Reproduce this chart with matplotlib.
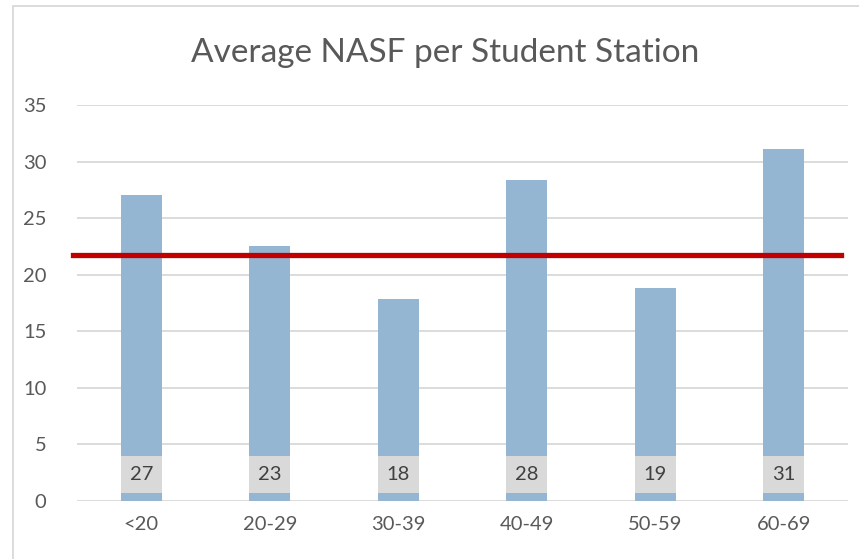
import matplotlib.pyplot as plt
from matplotlib.patches import Rectangle

categories = ['<20', '20-29', '30-39', '40-49', '50-59', '60-69']
nasf = [27.0, 22.55, 17.85, 28.35, 18.85, 31.1]
labels = ['27', '23', '18', '28', '19', '31']
average = 21.7

plt.rcParams['font.family'] = ['Lato', 'DejaVu Sans']

fig = plt.figure(figsize=(8.59, 5.59), dpi=100)
ax = fig.add_axes([0.0896, 0.1038, 0.8976, 0.7084])

x = range(len(categories))
ax.bar(x, nasf, width=0.32, color='#95b6d3', zorder=2)

# grey data label boxes at the base of the bars
ax.bar(x, 3.3, bottom=0.7, width=0.32, color='#d9d9d9', zorder=3)
for i, lab in enumerate(labels):
    ax.text(i, 2.3, lab, ha='center', va='center', fontsize=14.5,
            color='#404040', zorder=4)

ax.axhline(average, xmin=-0.005, xmax=0.991, color='#c00000', lw=3.8,
           zorder=5, clip_on=False)

ax.set_xlim(-0.5, 5.5)
ax.set_ylim(0, 35)
ax.set_yticks(range(0, 36, 5))
ax.set_xticks(list(x))
ax.set_xticklabels(categories)
ax.yaxis.grid(True, color='#d9d9d9', lw=1.3, zorder=0)
ax.set_axisbelow(True)
for s in ax.spines.values():
    s.set_visible(False)
ax.tick_params(length=0, labelsize=14.5, colors='#595959')
ax.tick_params(axis='y', pad=22)
ax.tick_params(axis='x', pad=11)
for t in ax.get_yticklabels():
    t.set_horizontalalignment('right')

fig.text(0.518, 0.906, 'Average NASF per Student Station', ha='center',
         va='center', fontsize=24, color='#595959')

# chart area border
fig.add_artist(Rectangle((13 / 859, -0.01), 1.0, 1 - 6 / 559 + 0.01,
                         transform=fig.transFigure, fill=False,
                         edgecolor='#d9d9d9', lw=1.3))

fig.savefig('out.png', dpi=100)
